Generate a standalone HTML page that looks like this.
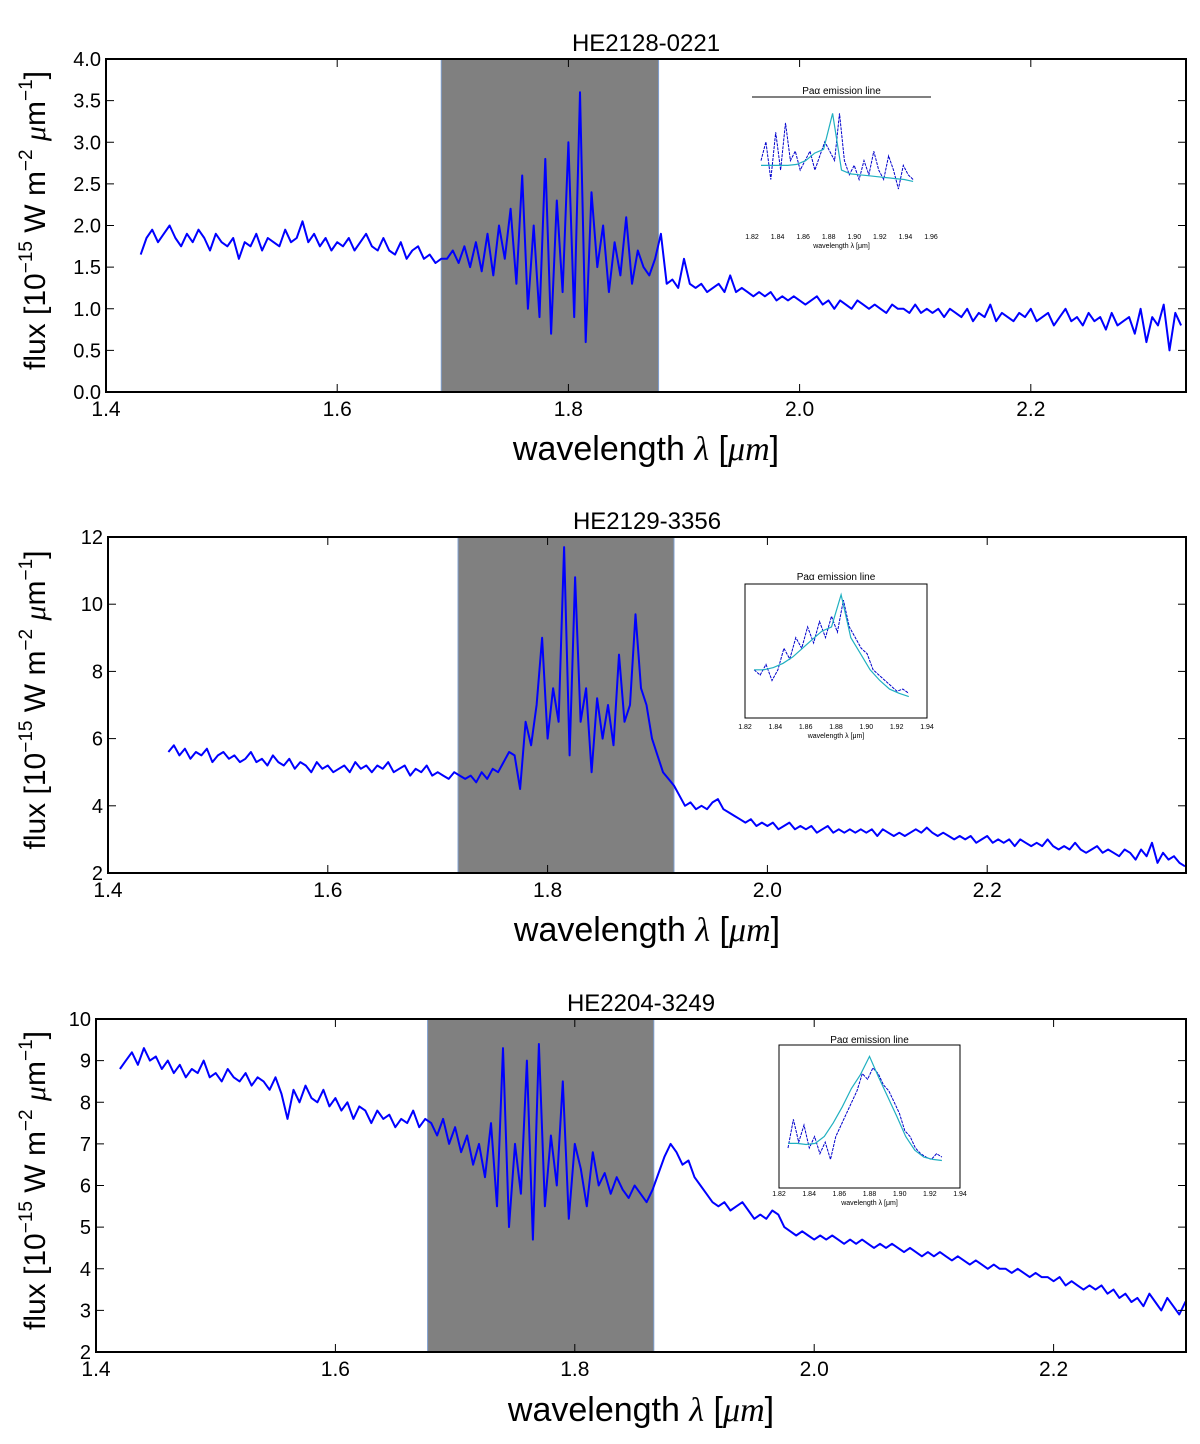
<!DOCTYPE html>
<html><head><meta charset="utf-8"><style>
body{margin:0;background:#fff}
svg{display:block;font-family:"Liberation Sans",sans-serif}
</style></head><body>
<svg id="fig" width="1200" height="1444" viewBox="0 0 1200 1444" xmlns="http://www.w3.org/2000/svg"></svg>
<script>
// ---- data ----
const p1Range=[1.43,2.33];
const p1Flux=[1.65,1.85,1.95,1.8,1.9,2.0,1.85,1.75,1.9,1.8,1.95,1.85,1.7,1.9,1.8,1.75,1.85,1.6,1.8,1.75,1.9,1.7,1.85,1.8,1.75,1.95,1.8,1.85,2.05,1.8,1.9,1.75,1.85,1.7,1.8,
1.75,1.85,1.7,1.8,1.9,1.75,1.7,1.85,1.7,1.65,1.8,1.6,1.7,1.75,1.6,1.65,1.55,1.6,
1.6,1.7,1.55,1.75,1.5,1.8,1.45,1.9,1.4,2.0,1.6,2.2,1.3,2.6,1.0,2.0,0.9,2.8,0.7,2.3,1.2,3.0,0.9,3.6,0.6,2.4,1.5,2.0,1.2,1.8,1.4,2.1,1.3,1.7,1.5,1.4,1.6,1.9,
1.3,1.35,1.25,1.6,1.3,1.25,1.3,1.2,1.25,1.3,1.2,1.4,1.2,1.25,1.2,1.15,1.2,1.15,1.2,1.1,1.15,1.1,1.15,1.1,1.05,1.1,1.15,1.05,1.1,1.0,1.1,1.05,1.0,1.1,1.05,1.0,1.05,1.0,0.95,1.05,1.0,1.0,0.95,1.05,0.95,1.0,0.95,1.0,0.9,1.0,0.95,0.9,1.0,0.85,0.95,0.9,1.05,0.85,0.95,0.9,0.85,0.95,0.9,1.0,0.85,0.9,0.95,0.8,0.9,1.0,0.85,0.9,0.8,0.95,0.85,0.9,0.75,0.95,0.8,0.85,0.9,0.7,1.0,0.6,0.9,0.8,1.05,0.5,0.95,0.8];
const p2Range=[1.455,2.38];
const p2Flux=[5.6,5.8,5.5,5.7,5.4,5.6,5.5,5.7,5.3,5.5,5.6,5.4,5.5,5.3,5.4,5.6,5.3,5.4,5.2,5.5,5.3,5.2,5.4,5.1,5.3,5.2,5.0,5.3,5.1,5.2,5.0,5.1,5.2,5.0,5.3,5.1,5.2,5.0,5.2,5.1,5.3,5.0,5.1,5.2,4.9,5.1,5.0,5.2,4.9,5.0,4.9,4.8,5.0,4.9,
4.8,4.9,4.7,5.0,4.8,5.1,5.0,5.3,5.6,5.5,4.5,6.5,5.8,7.0,9.0,6.0,7.5,6.5,11.7,5.5,10.8,6.5,7.5,5.0,7.2,6.0,7.0,5.8,8.5,6.5,7.0,9.7,7.5,7.0,6.0,5.5,5.0,4.8,4.6,4.3,
4.0,4.1,3.9,4.0,3.9,4.1,4.2,3.9,3.8,3.7,3.6,3.5,3.6,3.4,3.5,3.4,3.5,3.3,3.4,3.5,3.3,3.4,3.3,3.4,3.2,3.3,3.4,3.2,3.3,3.2,3.3,3.2,3.3,3.2,3.3,3.1,3.3,3.2,3.1,3.2,3.1,3.2,3.3,3.2,3.35,3.2,3.1,3.2,3.1,3.0,3.1,3.0,3.1,2.9,3.0,3.1,2.9,3.0,2.9,3.0,2.8,3.0,2.9,2.8,2.9,2.8,3.0,2.8,2.7,2.8,2.7,2.9,2.7,2.6,2.7,2.8,2.6,2.7,2.6,2.5,2.7,2.6,2.4,2.7,2.5,2.9,2.3,2.6,2.4,2.5,2.3,2.2];
const p3Range=[1.42,2.32];
const p3Flux=[8.8,9.0,9.2,8.9,9.3,9.0,9.1,8.8,9.0,8.7,8.9,8.6,8.8,8.7,9.0,8.6,8.7,8.5,8.8,8.6,8.5,8.7,8.4,8.6,8.5,8.3,8.6,8.2,7.6,8.3,8.0,8.4,8.1,8.0,8.3,7.9,8.1,7.8,8.0,7.6,7.9,7.8,7.5,7.8,7.6,7.7,7.4,7.6,7.5,7.8,7.4,7.6,
7.5,7.2,7.6,7.0,7.4,6.8,7.2,6.5,7.0,6.2,7.5,5.5,9.3,5.0,7.0,5.8,9.0,4.7,9.4,5.5,7.2,6.0,8.5,5.2,7.0,6.4,5.5,6.8,6.0,6.3,5.8,6.2,5.9,5.7,6.0,5.8,5.6,5.9,
6.3,6.7,7.0,6.8,6.5,6.6,6.2,6.0,5.8,5.6,5.5,5.6,5.4,5.5,5.6,5.4,5.2,5.3,5.2,5.4,5.3,5.0,4.9,4.8,4.9,4.8,4.7,4.8,4.7,4.8,4.7,4.6,4.7,4.6,4.7,4.6,4.5,4.6,4.5,4.6,4.5,4.4,4.5,4.4,4.3,4.4,4.3,4.4,4.3,4.2,4.3,4.2,4.1,4.2,4.1,4.0,4.1,4.0,4.0,3.9,4.0,3.9,3.8,3.9,3.8,3.8,3.7,3.8,3.6,3.7,3.6,3.5,3.6,3.5,3.6,3.4,3.5,3.3,3.4,3.2,3.3,3.1,3.4,3.2,3.0,3.3,3.1,2.9,3.2,3.0,2.9];
const xTicks=[1.4,1.6,1.8,2.0,2.2];
const y1Ticks=[0.0,0.5,1.0,1.5,2.0,2.5,3.0,3.5,4.0];
const y2Ticks=[2,4,6,8,10,12];
const y3Ticks=[2,3,4,5,6,7,8,9,10];
const titles=["HE2128-0221","HE2129-3356","HE2204-3249"];
const shades=[[1.69,1.878],[1.7185,1.915],[1.677,1.866]];
// inset data (normalised 0..1 flux)
const in1Flux=[0.5,0.7,0.3,0.8,0.4,0.9,0.5,0.6,0.4,0.5,0.6,0.4,0.55,0.7,0.6,0.5,1.0,0.5,0.35,0.45,0.3,0.5,0.35,0.6,0.4,0.3,0.55,0.4,0.2,0.45,0.35,0.3];
const in1Fit=[0.45,0.45,0.45,0.45,0.46,0.5,0.58,0.62,1.0,0.4,0.36,0.35,0.34,0.33,0.32,0.31,0.30,0.28];
const in2Flux=[0.3,0.25,0.35,0.2,0.3,0.5,0.4,0.6,0.5,0.7,0.55,0.75,0.6,0.8,0.65,0.95,0.7,0.6,0.5,0.45,0.3,0.25,0.2,0.15,0.1,0.12,0.08];
const in2Fit=[0.3,0.3,0.32,0.36,0.42,0.5,0.58,0.66,0.7,1.0,0.6,0.45,0.3,0.2,0.12,0.08,0.05];
const in3Flux=[0.2,0.45,0.25,0.4,0.2,0.3,0.15,0.25,0.1,0.3,0.4,0.5,0.6,0.7,0.85,0.8,0.9,0.85,0.75,0.7,0.6,0.5,0.35,0.3,0.2,0.15,0.12,0.1,0.15,0.12];
const in3Fit=[0.24,0.24,0.23,0.24,0.3,0.42,0.56,0.72,0.84,1.0,0.82,0.65,0.48,0.3,0.18,0.12,0.1,0.09];

const NS="http://www.w3.org/2000/svg";
const svg=document.getElementById('fig');
function mk(tag,attrs,parent){const e=document.createElementNS(NS,tag);for(const k in attrs)e.setAttribute(k,attrs[k]);(parent||svg).appendChild(e);return e;}
const defs=mk('defs',{});

const panels=[
 {L:106,R:1186,T:59,B:392,x0:1.4,ppu:1156,ymin:0,ymax:4,yt:y1Ticks,fmt:1,range:p1Range,flux:p1Flux,title:titles[0],shade:shades[0],labY:396,xlY:460,
  inset:{L:752,R:931,T:104,B:222,frame:false,titleY:95,flux:in1Flux,fit:in1Fit,tl:["1.82","1.84","1.86","1.88","1.90","1.92","1.94","1.96"],tickY:239}},
 {L:108,R:1186,T:537,B:873,x0:1.4,ppu:1099,ymin:2,ymax:12,yt:y2Ticks,fmt:0,range:p2Range,flux:p2Flux,title:titles[1],shade:shades[1],labY:877,xlY:941,
  inset:{L:745,R:927,T:584,B:718,frame:true,titleY:581,flux:in2Flux,fit:in2Fit,tl:["1.82","1.84","1.86","1.88","1.90","1.92","1.94"],tickY:729}},
 {L:96,R:1186,T:1019,B:1352,x0:1.4,ppu:1197,ymin:2,ymax:10,yt:y3Ticks,fmt:0,range:p3Range,flux:p3Flux,title:titles[2],shade:shades[2],labY:1356,xlY:1421,
  inset:{L:779,R:960,T:1045,B:1188,frame:true,titleY:1044,flux:in3Flux,fit:in3Fit,tl:["1.82","1.84","1.86","1.88","1.90","1.92","1.94"],tickY:1196}}
];

panels.forEach((p,pi)=>{
 const g=mk('g',{});
 
 
 const cp0=mk('clipPath',{id:'clip'+pi},defs);
 mk('rect',{x:p.L,y:p.T,width:p.R-p.L,height:p.B-p.T},cp0);
 const X=v=>p.L+(v-p.x0)*p.ppu;
 const Y=v=>p.B-(v-p.ymin)/(p.ymax-p.ymin)*(p.B-p.T);
 const sh=mk('rect',{x:X(p.shade[0]),y:p.T,width:X(p.shade[1])-X(p.shade[0]),height:p.B-p.T,fill:'#808080',stroke:'#7f9fcf','stroke-width':1},g);
 
 
 const n=p.flux.length;const pts=p.flux.map((f,i)=>{const w=p.range[0]+i*(p.range[1]-p.range[0])/(n-1);return X(w).toFixed(1)+','+Y(f).toFixed(1);}).join(' ');
 const ln=mk('polyline',{points:pts,fill:'none',stroke:'#0000ff','stroke-width':2,'stroke-linejoin':'round','clip-path':`url(#clip${pi})`},g);
 
 
 const fr=mk('rect',{x:p.L,y:p.T,width:p.R-p.L,height:p.B-p.T,fill:'none',stroke:'#000','stroke-width':2},g);
 
 
 xTicks.forEach(t=>{const x=X(t);
  mk('line',{x1:x,y1:p.B,x2:x,y2:p.B-8,stroke:'#000','stroke-width':1},g);
  mk('line',{x1:x,y1:p.T,x2:x,y2:p.T+8,stroke:'#000','stroke-width':1},g);
  const tx=mk('text',{x:x,y:p.labY+20,'font-size':21,'text-anchor':'middle'},g);tx.textContent=t.toFixed(1);
  
  
 });
 p.yt.forEach(t=>{const y=Y(t);
  mk('line',{x1:p.L,y1:y,x2:p.L+8,y2:y,stroke:'#000','stroke-width':1},g);
  mk('line',{x1:p.R,y1:y,x2:p.R-8,y2:y,stroke:'#000','stroke-width':1},g);
  const ty=mk('text',{x:p.L-5,y:y+7,'font-size':20,'text-anchor':'end'},g);ty.textContent=t.toFixed(p.fmt);
  
  
 });
 const ti=mk('text',{x:(p.L+p.R)/2,y:p.T-8,'font-size':24,'text-anchor':'middle'},g);ti.textContent=p.title;
 
 
 const xl=mk('text',{x:(p.L+p.R)/2,y:p.xlY,'font-size':34,'text-anchor':'middle'},g);
 xl.innerHTML='wavelength <tspan font-style="italic" font-family="Liberation Serif">λ</tspan> [<tspan font-style="italic" font-family="Liberation Serif">μm</tspan>]';
 
 
 const yl=mk('text',{transform:`translate(45,${(p.T+p.B)/2-5}) rotate(-90)`,'font-size':30,'text-anchor':'middle'},g);
 yl.innerHTML='flux [10<tspan font-size="19" dy="-13">−15</tspan><tspan dy="13"> W m</tspan><tspan font-size="19" dy="-13">−2</tspan><tspan dy="13"> </tspan><tspan font-style="italic" font-family="Liberation Serif">μ</tspan>m<tspan font-size="19" dy="-13">−1</tspan><tspan dy="13">]</tspan>';
 
 
 const I=p.inset;const ig=mk('g',{},g);
 
 
 if(I.frame){mk('rect',{x:I.L,y:I.T,width:I.R-I.L,height:I.B-I.T,fill:'none',stroke:'#000','stroke-width':1},ig);}
 else mk('line',{x1:I.L,y1:I.titleY+2,x2:I.R,y2:I.titleY+2,stroke:'#000','stroke-width':1},ig);
 const it=mk('text',{x:(I.L+I.R)/2,y:I.titleY-1,'font-size':10,'text-anchor':'middle'},ig);it.textContent='Paα emission line';
 const iw=I.R-I.L, ih=I.B-I.T;
 const ix0=I.L+iw*0.05, ix1=I.L+iw*0.9;
 const iY=v=>I.B-ih*0.12-v*(ih*0.8);
 const fp=I.flux.map((v,i)=>(ix0+i*(ix1-ix0)/(I.flux.length-1)).toFixed(1)+','+iY(v).toFixed(1)).join(' ');
 mk('polyline',{points:fp,fill:'none',stroke:'#0000cc','stroke-width':1,'stroke-dasharray':'3 1'},ig);
 const cp=I.fit.map((v,i)=>(ix0+i*(ix1-ix0)/(I.fit.length-1)).toFixed(1)+','+iY(v).toFixed(1)).join(' ');
 mk('polyline',{points:cp,fill:'none',stroke:'#20b0c0','stroke-width':1.2},ig);
 const nl=I.tl.length;
 I.tl.forEach((s,i)=>{const x=I.L+i*(iw)/(nl-1);const t=mk('text',{x:x,y:I.tickY,'font-size':7,'text-anchor':'middle'},ig);t.textContent=s;});
 const ixl=mk('text',{x:(I.L+I.R)/2,y:I.tickY+9,'font-size':7,'text-anchor':'middle'},ig);ixl.textContent='wavelength λ [μm]';
});
</script>
</body></html>
